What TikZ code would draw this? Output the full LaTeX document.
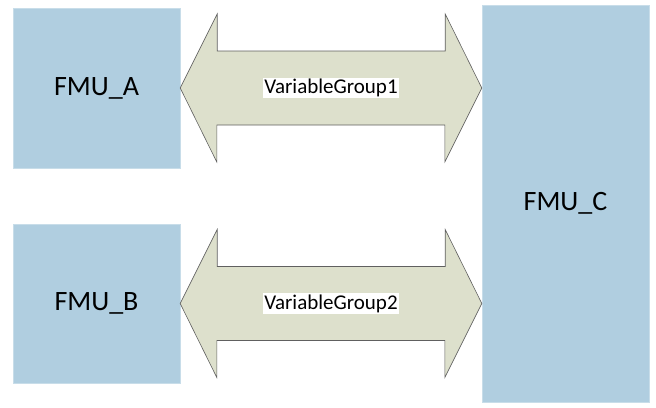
\documentclass[tikz,border=0pt]{standalone}
\usepackage{fontspec}
\setmainfont{Carlito}
\usepackage{xcolor}
\usepackage{tikz}
\usetikzlibrary{positioning, calc}

\definecolor{fmublue}{RGB}{176,206,224}
\definecolor{flowfill}{RGB}{221,224,204}
\definecolor{flowline}{RGB}{96,96,96}

\begin{document}
\begin{tikzpicture}[
    x=1pt, y=-1pt,
    fmu/.style={rectangle, fill=fmublue, draw=fmublue!70!white, line width=0.4pt,
        inner sep=0pt, font=\fontsize{28}{30}\selectfont},
    flow/.style={fill=flowfill, draw=flowline, line width=0.6pt, line join=miter},
    group/.style={fill=white, inner sep=1.5pt, font=\fontsize{21}{23}\selectfont}
]
\useasboundingbox (0,0) rectangle (656,407);

\node[fmu, minimum width=167pt, minimum height=160pt] (fa) at (96.5,88) {FMU\_A};
\node[fmu, minimum width=167pt, minimum height=159pt] (fb) at (96.5,303.5) {FMU\_B};
\node[fmu, minimum width=167pt, minimum height=397pt] (fc) at (565.5,203.5) {FMU\_C};

\foreach \src/\lbl/\name in {fa/VariableGroup1/g1, fb/VariableGroup2/g2} {
    \draw[flow] (\src.east) -- ++(37,-74) -- ++(0,37) -- ++(228,0) -- ++(0,-37)
        -- (fc.west |- \src.east) -- ++(-37,74) -- ++(0,-37) -- ++(-228,0)
        -- ++(0,37) -- cycle;
    \node[group] (\name) at ($(\src.east)!0.5!(fc.west |- \src.east)$) {\lbl};
}
\end{tikzpicture}
\end{document}
